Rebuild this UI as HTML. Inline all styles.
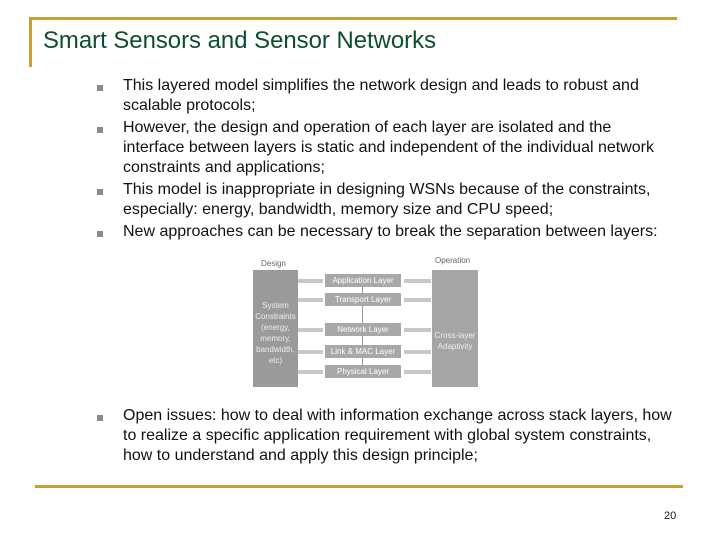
<!DOCTYPE html>
<html><head><style>
body{margin:0;width:720px;height:540px;background:#fff;position:relative;font-family:"Liberation Sans",sans-serif;overflow:hidden}
.a{position:absolute}
.l{position:absolute;left:123px;font-size:16px;color:#111;white-space:nowrap;line-height:20px}
.b{width:6px;height:6px;background:#8a8a8a;left:97px}
.ly{position:absolute;background:#a8a8a8;color:#fff;font-size:8px;text-align:center;line-height:13px;left:325px;width:76px;height:13px}
.ar{position:absolute;height:4px;background:#c8c8c8}
</style></head><body>
<div class="a" style="left:29px;top:17px;width:648px;height:3px;background:#c8a032"></div>
<div class="a" style="left:29px;top:17px;width:3px;height:50px;background:#c8a032"></div>
<div class="a" style="left:43px;top:27px;font-size:23.9px;color:#0e4d2e;white-space:nowrap">Smart Sensors and Sensor Networks</div>
<div class="a b" style="top:85px"></div>
<div class="a b" style="top:127px"></div>
<div class="a b" style="top:189px"></div>
<div class="a b" style="top:231px"></div>
<div class="a b" style="top:415px"></div>
<div class="l" style="top:76px">This layered model simplifies the network design and leads to robust and</div>
<div class="l" style="top:96px">scalable protocols;</div>
<div class="l" style="top:118px">However, the design and operation of each layer are isolated and the</div>
<div class="l" style="top:138px">interface between layers is static and independent of the individual network</div>
<div class="l" style="top:158px">constraints and applications;</div>
<div class="l" style="top:180px">This model is inappropriate in designing WSNs because of the constraints,</div>
<div class="l" style="top:200px">especially: energy, bandwidth, memory size and CPU speed;</div>
<div class="l" style="top:222px">New approaches can be necessary to break the separation between layers:</div>
<div class="l" style="top:406px">Open issues: how to deal with information exchange across stack layers, how</div>
<div class="l" style="top:426px">to realize a specific application requirement with global system constraints,</div>
<div class="l" style="top:446px">how to understand and apply this design principle;</div>
<div class="a" style="left:261px;top:259px;font-size:8px;color:#666">Design</div>
<div class="a" style="left:435px;top:256px;font-size:8px;color:#666">Operation</div>
<div class="a" style="left:253px;top:270px;width:45px;height:117px;background:#9a9a9a;color:#eee;font-size:8px;text-align:center;padding-top:30px;box-sizing:border-box;line-height:11px">System Constraints (energy, memory, bandwidth, etc)</div>
<div class="a" style="left:432px;top:270px;width:46px;height:117px;background:#a5a5a5;color:#eee;font-size:8px;text-align:center;padding-top:60px;box-sizing:border-box;line-height:11px">Cross-layer Adaptivity</div>
<div class="a" style="left:362px;top:282px;width:1px;height:95px;background:#999"></div>
<div class="ly" style="top:274px">Application Layer</div>
<div class="ly" style="top:293px">Transport Layer</div>
<div class="ly" style="top:323px">Network Layer</div>
<div class="ly" style="top:345px">Link &amp; MAC Layer</div>
<div class="ly" style="top:365px">Physical Layer</div>
<div class="ar" style="left:298px;top:279px;width:25px"></div>
<div class="ar" style="left:298px;top:298px;width:25px"></div>
<div class="ar" style="left:298px;top:328px;width:25px"></div>
<div class="ar" style="left:298px;top:350px;width:25px"></div>
<div class="ar" style="left:298px;top:370px;width:25px"></div>
<div class="ar" style="left:404px;top:279px;width:27px"></div>
<div class="ar" style="left:404px;top:298px;width:27px"></div>
<div class="ar" style="left:404px;top:328px;width:27px"></div>
<div class="ar" style="left:404px;top:350px;width:27px"></div>
<div class="ar" style="left:404px;top:370px;width:27px"></div>
<div class="a" style="left:35px;top:485px;width:648px;height:3px;background:#c8a032"></div>
<div class="a" style="left:664px;top:510px;font-size:11px;color:#111">20</div>
</body></html>
